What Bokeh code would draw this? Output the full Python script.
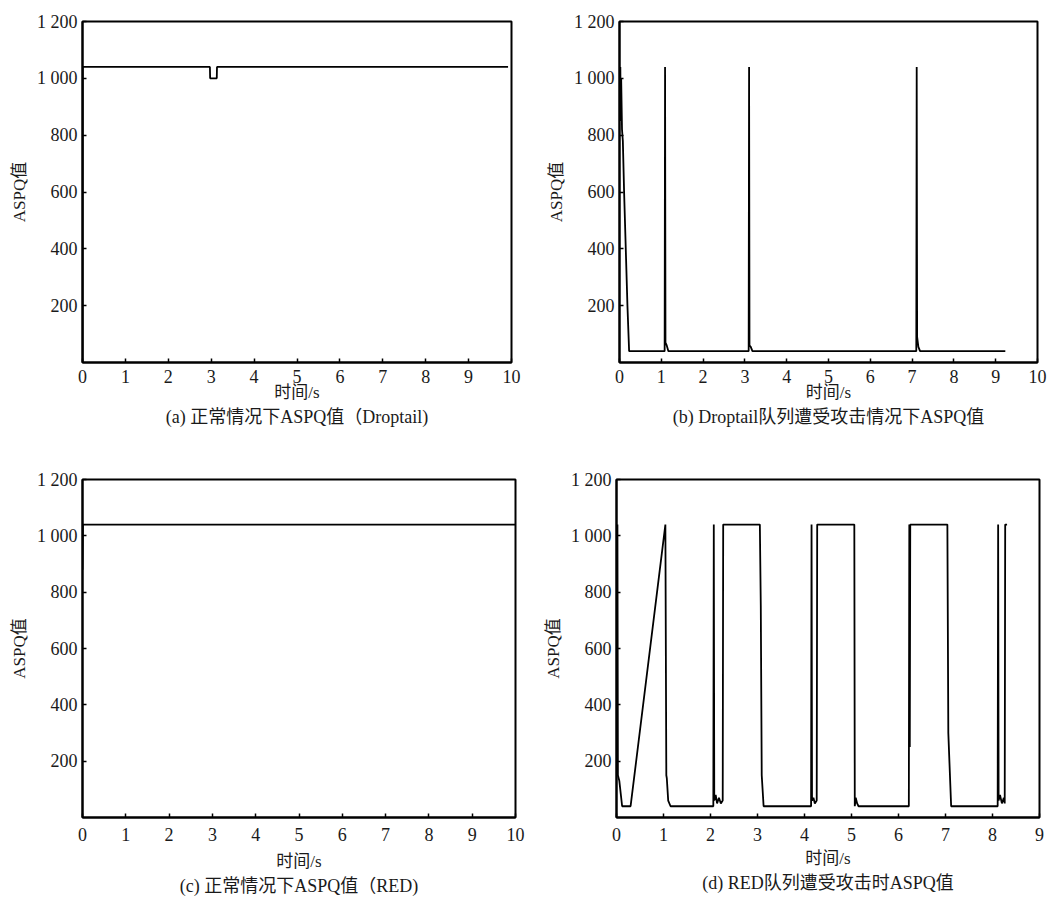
from bokeh.plotting import figure
from bokeh.layouts import column, row
from bokeh.models import FixedTicker, Title
from bokeh.embed import file_html
from bokeh.resources import INLINE

# ---------------- data ----------------
x_ticks_10 = [0, 1, 2, 3, 4, 5, 6, 7, 8, 9, 10]
x_ticks_9 = [0, 1, 2, 3, 4, 5, 6, 7, 8, 9]
y_ticks = [200, 400, 600, 800, 1000, 1200]
y_tick_labels = {200: "200", 400: "400", 600: "600", 800: "800", 1000: "1 000", 1200: "1 200"}

# (a) normal, Droptail
t_a = [0, 0.005, 2.97, 2.975, 3.13, 3.135, 9.92]
v_a = [0, 1040, 1040, 1000, 1000, 1040, 1040]

# (b) Droptail under attack
t_b = [0, 0.01, 0.02, 0.03, 0.04, 0.06, 0.08, 0.11, 0.15, 0.19, 0.23,
       1.08, 1.09, 1.10, 1.13, 1.17,
       3.09, 3.10, 3.11, 3.14, 3.18,
       7.10, 7.11, 7.12, 7.15, 7.19, 9.23]
v_b = [1040, 900, 1040, 850, 1000, 820, 780, 600, 400, 200, 40,
       40, 1040, 70, 60, 40,
       40, 1040, 60, 55, 40,
       40, 1040, 90, 55, 40, 40]

# (c) normal, RED
t_c = [0, 0.01, 10]
v_c = [880, 1040, 1040]

# (d) RED under attack
t_d = [0, 0.01, 0.02, 0.03, 0.06, 0.12, 0.30, 1.04, 1.06, 1.07, 1.10, 1.15,
       2.06, 2.07, 2.08, 2.11, 2.14, 2.18, 2.22, 2.26, 2.27, 3.05, 3.07, 3.09, 3.13,
       4.14, 4.15, 4.16, 4.19, 4.22, 4.26, 4.27, 5.06, 5.07, 5.09, 5.12, 5.15,
       6.22, 6.23, 6.24, 6.25, 6.26, 7.04, 7.06, 7.12,
       8.11, 8.12, 8.13, 8.16, 8.20, 8.24, 8.26, 8.27, 8.31]
v_d = [1040, 150, 1040, 150, 130, 40, 40, 1040, 150, 140, 60, 40,
       40, 1040, 60, 80, 50, 70, 50, 60, 1040, 1040, 750, 150, 40,
       40, 1040, 60, 70, 50, 60, 1040, 1040, 40, 70, 50, 40,
       40, 1040, 250, 1040, 1040, 1040, 300, 40,
       40, 1040, 60, 80, 50, 70, 50, 1040, 1040]

x_label = "时间/s"
y_label = "ASPQ值"
captions = ["(a) 正常情况下ASPQ值（Droptail)",
            "(b) Droptail队列遭受攻击情况下ASPQ值",
            "(c) 正常情况下ASPQ值（RED)",
            "(d) RED队列遭受攻击时ASPQ值"]

FONT = "Liberation Serif, Noto Sans CJK SC"
TXT = "#1a1a1a"


def panel(t, v, xmax, xticks, caption, w, h, left, right, top, bottom,
          tick_standoff, xlab_standoff, cap_standoff):
    p = figure(width=w, height=h, x_range=(0, xmax), y_range=(0, 1200),
               output_backend="svg", toolbar_location=None,
               min_border_left=left, min_border_right=right,
               min_border_top=top, min_border_bottom=bottom)
    p.line(t, v, line_color="black", line_width=1.8)
    p.grid.visible = False
    p.outline_line_color = "black"
    p.outline_line_width = 2
    p.outline_line_alpha = 1
    p.background_fill_color = "white"
    p.border_fill_color = "white"
    for ax in (p.xaxis[0], p.yaxis[0]):
        ax.axis_line_color = "black"
        ax.axis_line_width = 2
        ax.major_tick_in = 4
        ax.major_tick_out = 0
        ax.minor_tick_line_color = None
        ax.major_tick_line_color = "black"
        ax.major_tick_line_width = 1.5
        ax.major_label_text_font = FONT
        ax.major_label_text_font_size = "18px"
        ax.major_label_text_color = TXT
        ax.axis_label_text_font = FONT
        ax.axis_label_text_font_size = "17px"
        ax.axis_label_text_font_style = "normal"
        ax.axis_label_text_color = TXT
    p.xaxis.ticker = FixedTicker(ticks=xticks)
    p.yaxis.ticker = FixedTicker(ticks=y_ticks)
    p.yaxis.major_label_overrides = y_tick_labels
    p.xaxis.axis_label = x_label
    p.yaxis.axis_label = y_label
    p.xaxis.major_label_standoff = tick_standoff
    p.yaxis.major_label_standoff = 5
    p.xaxis.axis_label_standoff = xlab_standoff
    p.yaxis.axis_label_standoff = 5
    p.add_layout(Title(text=caption, align="center", text_font=FONT,
                       text_font_size="18px", text_font_style="normal",
                       text_color=TXT, standoff=cap_standoff), "below")
    return p


pa = panel(t_a, v_a, 10, x_ticks_10, captions[0], 530, 430, 82, 19, 21, 68, 7, -3, 0)
pb = panel(t_b, v_b, 10, x_ticks_10, captions[1], 531, 430, 89, 24, 18, 67, 7, -3, 0)
pc = panel(t_c, v_c, 10, x_ticks_10, captions[2], 530, 471, 82, 15, 46, 81, 10, 8, 0)
pd = panel(t_d, v_d, 9, x_ticks_9, captions[3], 531, 471, 86, 22, 49, 84, 10, 5, 0)

layout = column(row(pa, pb, spacing=0), row(pc, pd, spacing=0), spacing=0)

open("out.html", "w").write(file_html(layout, INLINE))
